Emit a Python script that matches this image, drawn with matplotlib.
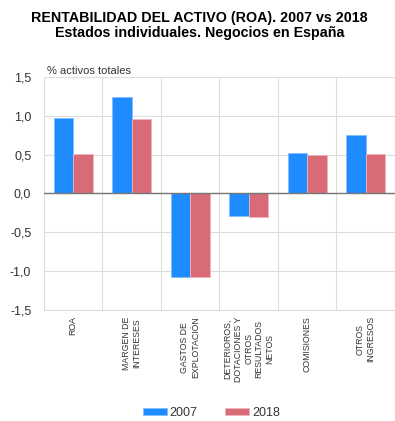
import numpy as np
import matplotlib.pyplot as plt

plt.rcParams['font.family'] = ['Liberation Sans', 'DejaVu Sans']

categories = [
    "ROA",
    "MARGEN DE\nINTERESES",
    "GASTOS DE\nEXPLOTACIÓN",
    "DETERIOROS,\nDOTACIONES Y\nOTROS\nRESULTADOS\nNETOS",
    "COMISIONES",
    "OTROS\nINGRESOS",
]
roa_2007 = [0.97, 1.24, -1.08, -0.29, 0.52, 0.75]
roa_2018 = [0.51, 0.96, -1.07, -0.30, 0.50, 0.51]
yticks = [-1.5, -1.0, -0.5, 0.0, 0.5, 1.0, 1.5]

blue = "#1e8cff"
red = "#d96b78"
grid = "#dddddd"

fig = plt.figure(figsize=(3.95, 4.21), dpi=100)
ax = fig.add_axes([0.111, 0.2637, 0.889, 0.5535])

x = np.arange(len(categories))
w = 0.335
ax.bar(x - w / 2, roa_2007, w, color=blue, edgecolor="#7fbfff", linewidth=0.6, zorder=3, label="2007")
ax.bar(x + w / 2, roa_2018, w, color=red, edgecolor="#f0b4bb", linewidth=0.6, zorder=3, label="2018")

ax.set_xlim(-0.5, len(categories) - 0.5)
ax.set_ylim(-1.5, 1.5)
ax.set_yticks(yticks)
ax.set_yticklabels([f"{v:.1f}".replace(".", ",") for v in yticks], fontsize=9, color="#333333")
ax.tick_params(axis="y", length=0, pad=9)
ax.set_xticks([])

# horizontal and vertical grid
for v in yticks:
    ax.axhline(v, color=grid, linewidth=0.8, zorder=1)
for b in np.arange(0.5, len(categories) - 0.5, 1.0):
    ax.axvline(b, color=grid, linewidth=0.8, zorder=1)
ax.axhline(0, color="#777777", linewidth=1.0, zorder=4)

for s in ["top", "right"]:
    ax.spines[s].set_visible(False)
for s in ["left", "bottom"]:
    ax.spines[s].set_color(grid)
    ax.spines[s].set_linewidth(0.8)

for i, lab in enumerate(categories):
    ax.text(i, -1.58, lab, rotation=90, ha="center", va="top", multialignment="center",
            fontsize=6.3, color="#333333", linespacing=1.2)

ax.text(0.008, 1.004, "% activos totales", transform=ax.transAxes, fontsize=8,
        color="#333333", ha="left", va="bottom")

fig.text(0.505, 0.973, "RENTABILIDAD DEL ACTIVO (ROA). 2007 vs 2018\nEstados individuales. Negocios en España",
         ha="center", va="top", fontsize=10.3, fontweight="bold", linespacing=1.1)

leg = fig.legend(loc="lower center", bbox_to_anchor=(0.535, -0.022), ncol=2, frameon=False,
                 fontsize=9, handlelength=1.9, handleheight=0.5, columnspacing=2.2,
                 handletextpad=0.25, labelcolor="#333333")

fig.savefig("out.png", dpi=100)
